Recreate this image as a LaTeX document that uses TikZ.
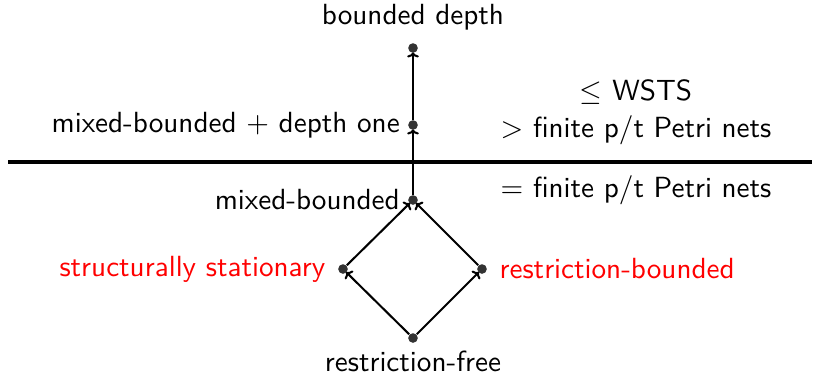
\documentclass[tikz,border=0pt]{standalone}
\usetikzlibrary{arrows.meta}
\begin{document}
\begin{tikzpicture}[x=0.343pt,y=-0.343pt,
  font=\sffamily,
  pt/.style={circle,fill=black!80,inner sep=0pt,minimum size=3.3pt},
  lbl/.style={inner sep=2pt},
  red lbl/.style={lbl,text=red},
  arr/.style={-{To[length=1.7pt,width=4pt]},line width=0.7pt,shorten >=-0.3pt}]
\useasboundingbox (0,0) rectangle (814,375);
\node[pt] (bd) at (413,48) {};
\node[pt] (mbd) at (413,125) {};
\node[pt] (mb) at (413,200) {};
\node[pt] (ss) at (343,269) {};
\node[pt] (rb) at (482,269) {};
\node[pt] (rf) at (413,338) {};
\node[lbl,above=2pt] at (bd.north) {bounded depth};
\node[lbl,left=0.5pt] at (mbd.west) {mixed-bounded $+$ depth one};
\node[lbl,left=0.5pt] at (mb.west) {mixed-bounded};
\node[red lbl,left=2pt] at (ss.west) {structurally stationary};
\node[red lbl,right=2pt] at (rb.east) {restriction-bounded};
\node[lbl,below=0.5pt] at (rf.south) {restriction-free};
\draw[arr] (rf) -- (ss);
\draw[arr] (rf) -- (rb);
\draw[arr] (ss) -- (mb);
\draw[arr] (rb) -- (mb);
\draw[arr] (mb) -- (mbd);
\draw[arr] (mbd) -- (bd);
\coordinate (l1) at (8,162);
\coordinate (l2) at (812,162);
\draw[line width=1.2pt] (l1) -- (l2);
\node[lbl] (w) at (636,92) {$\leq$ WSTS};
\node[lbl] (g) at (636,130) {$>$ finite p/t Petri nets};
\node[lbl] (e) at (636,190) {$=$ finite p/t Petri nets};
\end{tikzpicture}
\end{document}
